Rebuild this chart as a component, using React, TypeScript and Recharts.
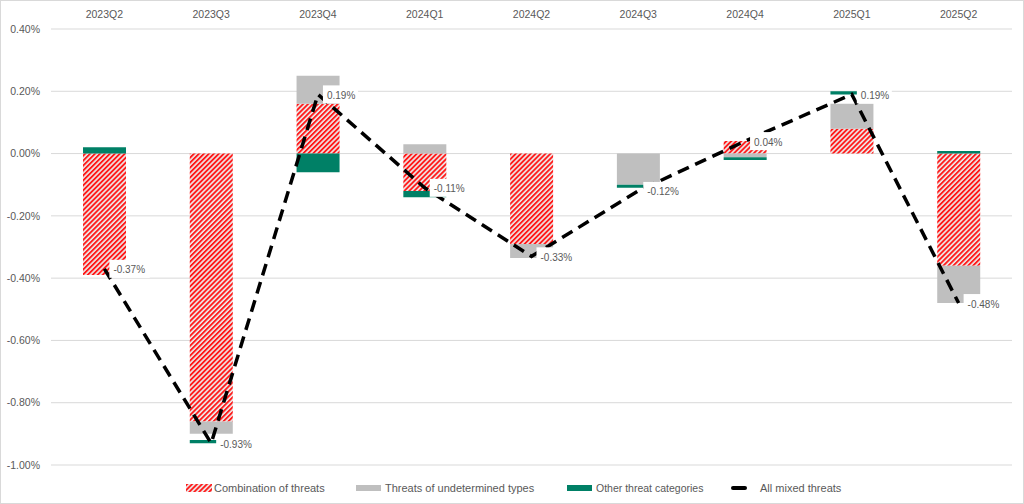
import React from 'react';
import {
  ComposedChart, Bar, Line, XAxis, YAxis, CartesianGrid, LabelList,
} from 'recharts';

const quarters = ['2023Q2', '2023Q3', '2023Q4', '2024Q1', '2024Q2', '2024Q3', '2024Q4', '2025Q1', '2025Q2'];
const combinationOfThreats = [-0.39, -0.86, 0.16, -0.12, -0.29, 0, 0.04, 0.08, -0.36];
const undeterminedTypes = [0, -0.04, 0.09, 0.03, -0.045, -0.1, -0.012, 0.08, -0.12];
const hiddenGap = [0, -0.02, 0, 0, 0, 0, 0, 0.03, 0];
const otherCategories = [0.02, -0.01, -0.06, -0.02, 0, -0.01, -0.009, 0.01, 0.008];
const allMixedThreats = [-0.37, -0.93, 0.19, -0.11, -0.33, -0.12, 0.04, 0.19, -0.48];
const yTicks = [0.4, 0.2, 0, -0.2, -0.4, -0.6, -0.8, -1.0];

const seriesNames = ['Combination of threats', 'Threats of undetermined types', 'Other threat categories', 'All mixed threats'];

const data = quarters.map((q, i) => ({
  quarter: q,
  combination: combinationOfThreats[i],
  undetermined: undeterminedTypes[i],
  gap: hiddenGap[i],
  other: otherCategories[i],
  total: allMixedThreats[i],
}));

const FONT = '"Liberation Sans", Arial, sans-serif';
const TXT = '#595959';
const GREY = '#bfbfbf';
const GREEN = '#008066';

const fmt = (v: number) => `${v.toFixed(2)}%`;

const renderLabel = (props: any) => {
  const { x, y, value } = props;
  if (x == null || y == null) return null;
  const text = fmt(Number(value));
  const w = text.length * 5.4 + 8;
  return (
    <g>
      <rect x={x + 5} y={y - 9} width={w} height={18} fill="#ffffff" />
      <text x={x + 9} y={y + 1} dominantBaseline="central" fontSize={10} fontFamily={FONT} fill={TXT}>
        {text}
      </text>
    </g>
  );
};

const legendItem = (kind: string, label: string, left: number) => {
  let swatch: React.ReactNode = null;
  if (kind === 'hatch') {
    swatch = (
      <svg width={26} height={8} style={{ display: 'block' }}>
        <rect x={0} y={0} width={26} height={8} fill="url(#hatchRed)" />
      </svg>
    );
  } else if (kind === 'grey' || kind === 'green') {
    swatch = <div style={{ width: 25, height: 6, background: kind === 'grey' ? GREY : GREEN }} />;
  } else {
    swatch = (
      <svg width={16} height={8} style={{ display: 'block' }}>
        <line x1={2} y1={4} x2={14} y2={4} stroke="#000" strokeWidth={4} strokeLinecap="round" />
      </svg>
    );
  }
  return (
    <div
      key={label}
      style={{ position: 'absolute', left, top: 0, height: 16, display: 'flex', alignItems: 'center', whiteSpace: 'nowrap' }}
    >
      {swatch}
      <span style={{ marginLeft: kind === 'line' ? 13 : kind === 'hatch' ? 2 : 4, fontSize: kind === 'green' ? 10.5 : 11, fontFamily: FONT, color: TXT }}>{label}</span>
    </div>
  );
};

export default function App() {
  return (
    <div
      style={{
        position: 'absolute', left: 0, top: 0, width: 1024, height: 504,
        background: '#fff', boxSizing: 'border-box', border: '1px solid #d9d9d9', overflow: 'hidden',
      }}
    >
      <svg width={0} height={0} style={{ position: 'absolute' }}>
        <defs>
          <pattern id="hatchRed" patternUnits="userSpaceOnUse" width={3.5} height={3.5} patternTransform="rotate(45)">
            <rect x={0} y={0} width={3.5} height={3.5} fill="#eeeeee" />
            <rect x={0} y={0} width={1.9} height={3.5} fill="#ff1a1a" />
          </pattern>
        </defs>
      </svg>
      <div style={{ position: 'absolute', left: -1, top: -1 }}>
        <ComposedChart
          width={1024}
          height={504}
          data={data}
          stackOffset="sign"
          margin={{ top: 0, right: 12, bottom: 39, left: 0 }}
        >
          <CartesianGrid vertical={false} stroke="#d9d9d9" />
          <XAxis
            dataKey="quarter"
            orientation="top"
            height={29}
            axisLine={false}
            tickLine={false}
            tickMargin={5}
            interval={0}
            tick={{ fontSize: 10.5, fontFamily: FONT, fill: TXT }}
          />
          <YAxis
            type="number"
            domain={[-1.0, 0.4]}
            ticks={yTicks}
            width={51}
            axisLine={false}
            tickLine={false}
            tickMargin={5}
            tickFormatter={fmt}
            tick={{ fontSize: 10.5, fontFamily: FONT, fill: TXT }}
          />
          <Bar dataKey="combination" name={seriesNames[0]} stackId="s" fill="url(#hatchRed)" barSize={43} isAnimationActive={false} />
          <Bar dataKey="undetermined" name={seriesNames[1]} stackId="s" fill={GREY} barSize={43} isAnimationActive={false} />
          <Bar dataKey="gap" stackId="s" fill="transparent" legendType="none" barSize={43} isAnimationActive={false} />
          <Bar dataKey="other" name={seriesNames[2]} stackId="s" fill={GREEN} barSize={43} isAnimationActive={false} />
          <Line
            dataKey="total"
            name={seriesNames[3]}
            type="linear"
            stroke="#000"
            strokeWidth={3.5}
            strokeDasharray="12 7"
            dot={false}
            activeDot={false}
            isAnimationActive={false}
          >
            <LabelList dataKey="total" content={renderLabel} />
          </Line>
        </ComposedChart>
      </div>
      <div style={{ position: 'absolute', left: 0, top: 479, width: 1024, height: 16 }}>
        {legendItem('hatch', seriesNames[0], 185)}
        {legendItem('grey', seriesNames[1], 355)}
        {legendItem('green', seriesNames[2], 566)}
        {legendItem('line', seriesNames[3], 730)}
      </div>
    </div>
  );
}
